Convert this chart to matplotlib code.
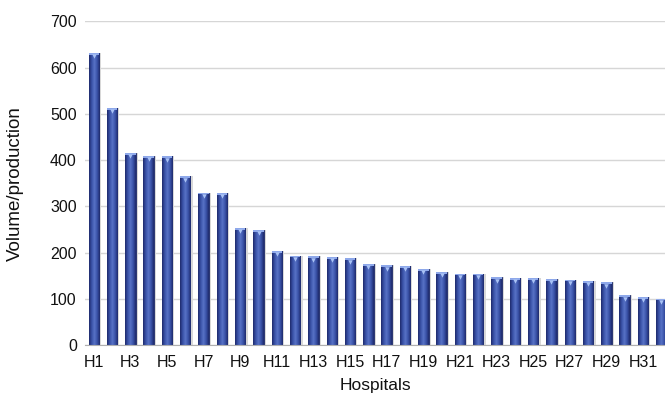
import matplotlib
matplotlib.use('Agg')

import numpy as np
import matplotlib.pyplot as plt
from matplotlib.colors import LinearSegmentedColormap

# hospitals H1..H32, sorted by volume
hospitals = ["H%d" % i for i in range(1, 33)]
volume = [631, 513, 416, 409, 408, 365, 330, 329, 254, 249,
          204, 194, 192, 191, 188, 176, 173, 171, 165, 158,
          155, 155, 147, 145, 145, 143, 142, 139, 136, 108,
          105, 101]
yticks = [0, 100, 200, 300, 400, 500, 600, 700]

plt.rcParams['font.family'] = ['Liberation Sans', 'DejaVu Sans']

fig = plt.figure(figsize=(6.65, 3.97), dpi=100)
ax = fig.add_axes([0.128, 0.130, 0.872, 0.8166])

x = np.arange(len(hospitals))
width = 0.57

# soft shadow on the right of each bar
ax.bar(x + 0.12, volume, width=width, color="#d8d8d8", zorder=1, linewidth=0)

bars = ax.bar(x, volume, width=width, color="#34479a", edgecolor="#1c2866",
              linewidth=0.6, zorder=2)

# cylinder-like shading
cmap = LinearSegmentedColormap.from_list(
    "barshade", ["#1e2a6c", "#3a52a8", "#5872c6", "#3a52a8", "#1e2a6c"])
grad = np.linspace(0, 1, 64).reshape(1, -1)
for b in bars:
    x0, w, h = b.get_x(), b.get_width(), b.get_height()
    im = ax.imshow(grad, cmap=cmap, aspect="auto", zorder=3,
                   extent=[x0, x0 + w, 0, h], origin="lower")
    im.set_clip_path(b)

# light cap with small downward triangle
ax.bar(x, [4] * len(x), bottom=np.array(volume) - 4, width=width,
       color="#8ea8ea", linewidth=0, zorder=4)
ax.scatter(x, np.array(volume) - 7, marker="v", s=10, color="#a9c2f5",
           linewidths=0, zorder=5)

ax.set_xlim(-0.47, 31.2)
ax.set_ylim(0, 700)
ax.set_yticks(yticks)
ax.set_xticks(x[::2])
ax.set_xticklabels(hospitals[::2])
ax.tick_params(axis="both", length=0, labelsize=11.5, colors="#111111")
ax.tick_params(axis="x", pad=7)
ax.tick_params(axis="y", pad=6)

ax.yaxis.grid(True, color="#d6d6d6", linewidth=1.0)
ax.set_axisbelow(True)
for s in ["top", "right", "left"]:
    ax.spines[s].set_visible(False)
ax.spines["bottom"].set_color("#b0b0b0")
ax.spines["bottom"].set_zorder(6)

ax.set_xlabel("Hospitals", fontsize=12.5, labelpad=6, color="#111111")
ax.set_ylabel("Volume/production", fontsize=13.5, color="#111111")
ax.yaxis.set_label_coords(-0.105, 0.5)

fig.savefig("out.png", dpi=100)
plt.close(fig)
